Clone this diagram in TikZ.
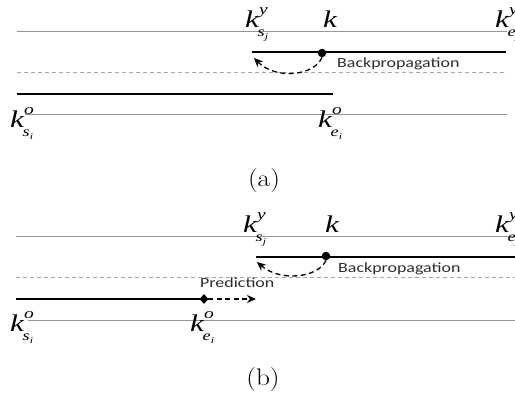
\documentclass[tikz,border=0pt]{standalone}
\usepackage{fontspec}
\usepackage{graphicx}
\usetikzlibrary{arrows.meta,shapes.geometric}
\newfontfamily\tmsfont{Liberation Serif}
\newfontfamily\calfont{Carlito}
\definecolor{lgray}{RGB}{150,150,150}
\definecolor{dgray}{RGB}{165,165,165}
\definecolor{txtgray}{RGB}{45,45,45}
\newcommand\kk{{\tmsfont\itshape\fontsize{24}{24}\selectfont k}}
\newcommand\klab[3]{\scalebox{1.3}[1]{\tmsfont\itshape\fontsize{24}{24}\selectfont k\rlap{\raisebox{13pt}{\fontsize{15}{15}\selectfont #1}}\kern-1pt\raisebox{-9pt}{\fontsize{14}{14}\selectfont #2\raisebox{-3pt}{\fontsize{9}{9}\selectfont #3}}}}
\newcommand\konly{\scalebox{1.3}[1]{\kk}}
\tikzset{
  guide/.style={draw=lgray,line width=0.9pt},
  midguide/.style={draw=dgray,line width=0.9pt,dash pattern=on 4pt off 3pt},
  seg/.style={draw=black,line width=1.4pt},
  dotmark/.style={circle,fill=black,inner sep=0pt,minimum size=8.5pt},
  diamark/.style={diamond,fill=black,inner sep=0pt,minimum width=8.5pt,minimum height=9.5pt},
  darrow/.style={draw=black,line width=1.3pt,dash pattern=on 5pt off 3.5pt,-{Stealth[length=9pt,width=8pt]}},
  lab/.style={inner sep=0pt,anchor=base west},
  note/.style={inner sep=0pt,anchor=base west,text=txtgray,font=\calfont\fontsize{14}{14}\selectfont},
  captext/.style={inner sep=0pt,anchor=base,font=\fontsize{24}{24}\selectfont}
}
\begin{document}
\begin{tikzpicture}[x=1pt,y=-1pt]
\useasboundingbox (0,0) rectangle (515,398);
\clip (0,0) rectangle (515,398);
% ---------------- (a) ----------------
\coordinate (a1l) at (17,31);  \coordinate (a1r) at (507,31);
\coordinate (a2l) at (252,52); \coordinate (a2r) at (506,52);
\coordinate (a3l) at (17,72);  \coordinate (a3r) at (507,72);
\coordinate (a4l) at (17,94);  \coordinate (a4r) at (333,94);
\coordinate (a5l) at (25,114); \coordinate (a5r) at (507,114);
\path[guide] (a1l) -- (a1r);
\path[seg] (a2l) -- (a2r);
\path[midguide] (a3l) -- (a3r);
\path[seg] (a4l) -- (a4r);
\path[guide] (a5l) -- (a5r);
\node[dotmark] (adot) at (322,53) {};
\coordinate (atip) at (254,58);
\draw[darrow] (adot.south) .. controls (314,76) and (276,80) .. (atip);
\node[note] (abp) at (337,68) {\scalebox{1.28}[1]{Backpropagation}};
\node[lab] (aksj) at (245,28) {\klab{y}{s}{j}};
\node[lab] (ak) at (323,28) {\konly};
\node[lab] (akej) at (495,28) {\klab{y}{e}{j}};
\node[lab] (aksi) at (10,128) {\klab{o}{s}{i}};
\node[lab] (akei) at (318,128) {\klab{o}{e}{i}};
\node[captext] (acap) at (264,187) {\scalebox{1.14}[1]{(a)}};
% ---------------- (b) ----------------
\coordinate (b1l) at (16,236);  \coordinate (b1r) at (515,236);
\coordinate (b2l) at (256,257); \coordinate (b2r) at (515,257);
\coordinate (b3l) at (16,277);  \coordinate (b3r) at (515,277);
\coordinate (b4l) at (16,299);
\coordinate (b5l) at (28,320);  \coordinate (b5r) at (515,320);
\path[guide] (b1l) -- (b1r);
\path[seg] (b2l) -- (b2r);
\path[midguide] (b3l) -- (b3r);
\path[guide] (b5l) -- (b5r);
\node[diamark] (bdia) at (204,299) {};
\path[seg] (b4l) -- (bdia.center);
\node[diamark] at (204,299) {};
\coordinate (bptip) at (256,299);
\draw[darrow] (bdia.east) -- (bptip);
\node[dotmark] (bdot) at (326,256) {};
\coordinate (btip) at (257,262);
\draw[darrow] (bdot.south) .. controls (318,278) and (280,282) .. (btip);
\node[note] (bbp) at (338,273) {\scalebox{1.28}[1]{Backpropagation}};
\node[note] (bpr) at (200,288) {\scalebox{1.28}[1]{Prediction}};
\node[lab] (bksj) at (243,233) {\klab{y}{s}{j}};
\node[lab] (bk) at (325,233) {\konly};
\node[lab] (bkej) at (495,233) {\klab{y}{e}{j}};
\node[lab] (bksi) at (10,332) {\klab{o}{s}{i}};
\node[lab] (bkei) at (190,332) {\klab{o}{e}{i}};
\node[captext] (bcap) at (263,386) {\scalebox{1.14}[1]{(b)}};
\end{tikzpicture}
\end{document}
